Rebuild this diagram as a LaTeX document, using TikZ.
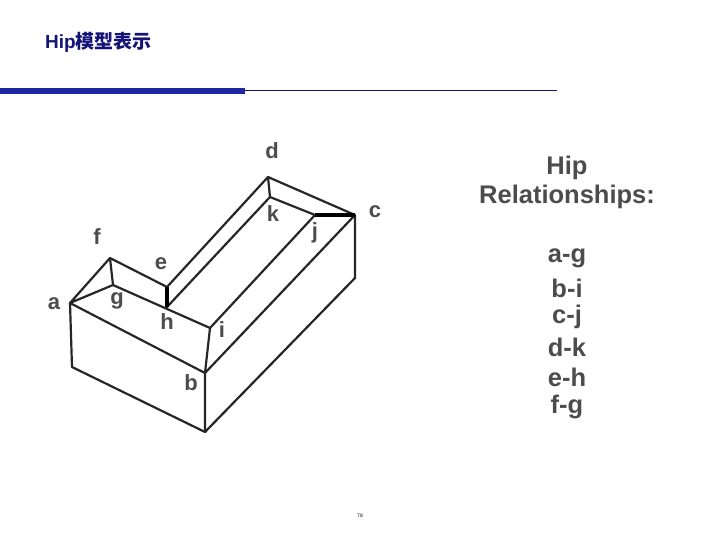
\documentclass[tikz,border=0pt]{standalone}
\usepackage{fontspec}
\setmainfont{Liberation Sans}
\newfontfamily\cjk{Noto Sans CJK SC}
\definecolor{titlec}{RGB}{20,20,120}
\definecolor{barc}{RGB}{30,40,160}
\definecolor{linec}{RGB}{20,20,100}
\begin{document}
\begin{tikzpicture}[x=1pt,y=-1pt,
  edge/.style={line width=2.2pt,line join=round,line cap=round,draw=black!85},
  lbl/.style={font=\bfseries\fontsize{22}{22}\selectfont,text=black!70,inner sep=0pt},
  rel/.style={font=\bfseries\fontsize{25.5}{25.5}\selectfont,text=black!70,inner sep=0pt}]
\useasboundingbox (0,0) rectangle (720,540);
\node[anchor=west,inner sep=0pt,font=\bfseries\fontsize{19}{19}\selectfont,text=titlec] (title) at (45,42) {Hip{\cjk 模型表示}};
\fill[barc] (0,88.5) rectangle (245,94.5);
\draw[line width=1.4pt,linec] (245,90.5) -- (557,90.5);
\coordinate (a) at (70,303); \coordinate (f) at (110,258); \coordinate (g) at (113,285);
\coordinate (e) at (167,287); \coordinate (h) at (167,307); \coordinate (i) at (210,328);
\coordinate (b) at (205,373); \coordinate (bb) at (205,432); \coordinate (ab) at (72,367);
\coordinate (d) at (268,177); \coordinate (k) at (270,197); \coordinate (j) at (315,215);
\coordinate (c) at (355,215); \coordinate (cb) at (355,278);
\draw[edge] (a)--(f)--(e)--(h) (a)--(g)--(f) (g)--(i) (a)--(b)--(i)--(j)--(k)--(d)--(c)--(j)
  (e)--(d) (h)--(k) (b)--(c)--(cb)--(bb)--(ab)--(a) (b)--(bb);
\draw[line width=3.4pt] (e)--(h) (j)--(c);
\node[lbl] (la) at (54,304) {a}; \node[lbl] (lb) at (191,383) {b}; \node[lbl] (lc) at (375,212) {c};
\node[lbl] (ld) at (272,151) {d}; \node[lbl] (le) at (161,264) {e}; \node[lbl] (lf) at (97,237) {f};
\node[lbl] (lg) at (117,301) {g}; \node[lbl] (lh) at (167,322) {h}; \node[lbl] (li) at (222,330) {i};
\node[lbl] (lj) at (315,233) {j}; \node[lbl] (lk) at (273,214) {k};
\node[rel] (r1) at (567,168) {Hip};
\node[rel] (r2) at (567,197) {Relationships:};
\node[rel] (r3) at (567,258) {a-g};
\node[rel] (r4) at (567,288) {b-i};
\node[rel] (r5) at (567,317) {c-j};
\node[rel] (r6) at (567,347) {d-k};
\node[rel] (r7) at (567,377) {e-h};
\node[rel] (r8) at (567,407) {f-g};
\node[font=\fontsize{5}{5}\selectfont,inner sep=0pt] (pg) at (360,516) {78};
\end{tikzpicture}
\end{document}
